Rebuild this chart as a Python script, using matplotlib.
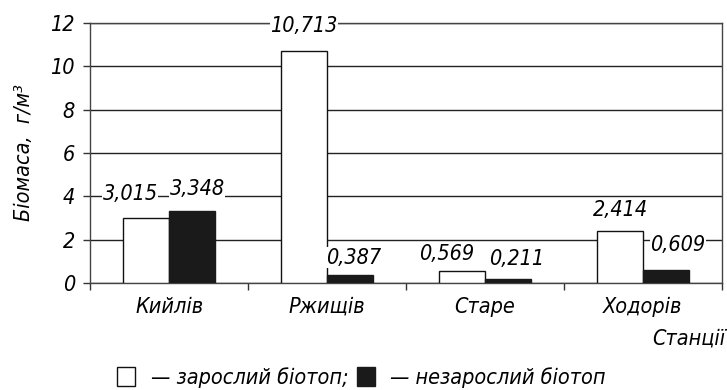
import matplotlib.pyplot as plt
from matplotlib.patches import Patch
import numpy as np

plt.rcParams['font.family'] = ['DejaVu Sans']
plt.rcParams['font.stretch'] = 'condensed'
plt.rcParams['font.style'] = 'oblique'

stations = ['Кийлів', 'Ржищів', 'Старе', 'Ходорів']
overgrown = [3.015, 10.713, 0.569, 2.414]
open_water = [3.348, 0.387, 0.211, 0.609]
yticks = [0, 2, 4, 6, 8, 10, 12]

# hand-placed label nudges (pixels) so neighbouring values don't collide
shift_overgrown = [(-16, 24), (0, 25), (-16, 17), (0, 21)]
shift_open = [(5, 22), (4, 17), (9, 20), (12, 25)]

FS = 15.5

fig = plt.figure(figsize=(7.27, 3.90), dpi=100)
ax = fig.add_axes([0.124, 0.274, 0.869, 0.667])

x = np.arange(len(stations))
w = 0.29
b1 = ax.bar(x - w / 2, overgrown, w, color='white', edgecolor='#111111', linewidth=1.0, zorder=3)
b2 = ax.bar(x + w / 2, open_water, w, color='#1a1a1a', edgecolor='#1a1a1a', linewidth=1.0, zorder=3)

# value labels on a white patch that hides the grid behind them
for bars, vals, shifts in ((b1, overgrown, shift_overgrown), (b2, open_water, shift_open)):
    for rect, v, (dx, dy) in zip(bars, vals, shifts):
        ax.annotate(f'{v:.3f}'.replace('.', ','),
                    (rect.get_x() + rect.get_width() / 2, v),
                    xytext=(dx, dy), textcoords='offset pixels',
                    ha='center', va='center', fontsize=FS, zorder=4,
                    bbox=dict(facecolor='white', edgecolor='none', pad=0.3),
                    annotation_clip=False)

ax.set_xlim(-0.5, len(stations) - 0.5)
ax.set_ylim(0, 12)
ax.set_yticks(yticks)
ax.set_yticklabels([str(t) for t in yticks], fontsize=FS)
ax.yaxis.grid(True, color='#222222', linewidth=1.0, zorder=0)
ax.set_axisbelow(True)

ax.set_xticks(x)
ax.set_xticklabels(stations, fontsize=FS)
ax.set_xticks(np.arange(-0.5, len(stations)), minor=True)
ax.tick_params(axis='x', which='major', length=0, pad=10)
ax.tick_params(axis='x', which='minor', length=5, width=1, color='#333333')
ax.tick_params(axis='y', length=5, width=1, color='#333333', pad=6)

for s in ax.spines.values():
    s.set_color('#444444')
    s.set_linewidth(1.0)

fig.text(0.033, 0.61, 'Біомаса,  г/м³', rotation=90, ha='center', va='center', fontsize=FS)
fig.text(0.998, 0.131, 'Станції', ha='right', va='center', fontsize=FS)

handles = [Patch(facecolor='white', edgecolor='#111111', linewidth=1.0),
           Patch(facecolor='#1a1a1a', edgecolor='#1a1a1a', linewidth=1.0)]
fig.legend(handles, ['— зарослий біотоп;', '— незарослий біотоп'],
           loc='center', bbox_to_anchor=(0.497, 0.032), ncol=2, frameon=False,
           fontsize=FS, handlelength=0.85, handleheight=1.0, handletextpad=0.7,
           columnspacing=0.4, borderpad=0)

fig.savefig('out.png', dpi=100)
